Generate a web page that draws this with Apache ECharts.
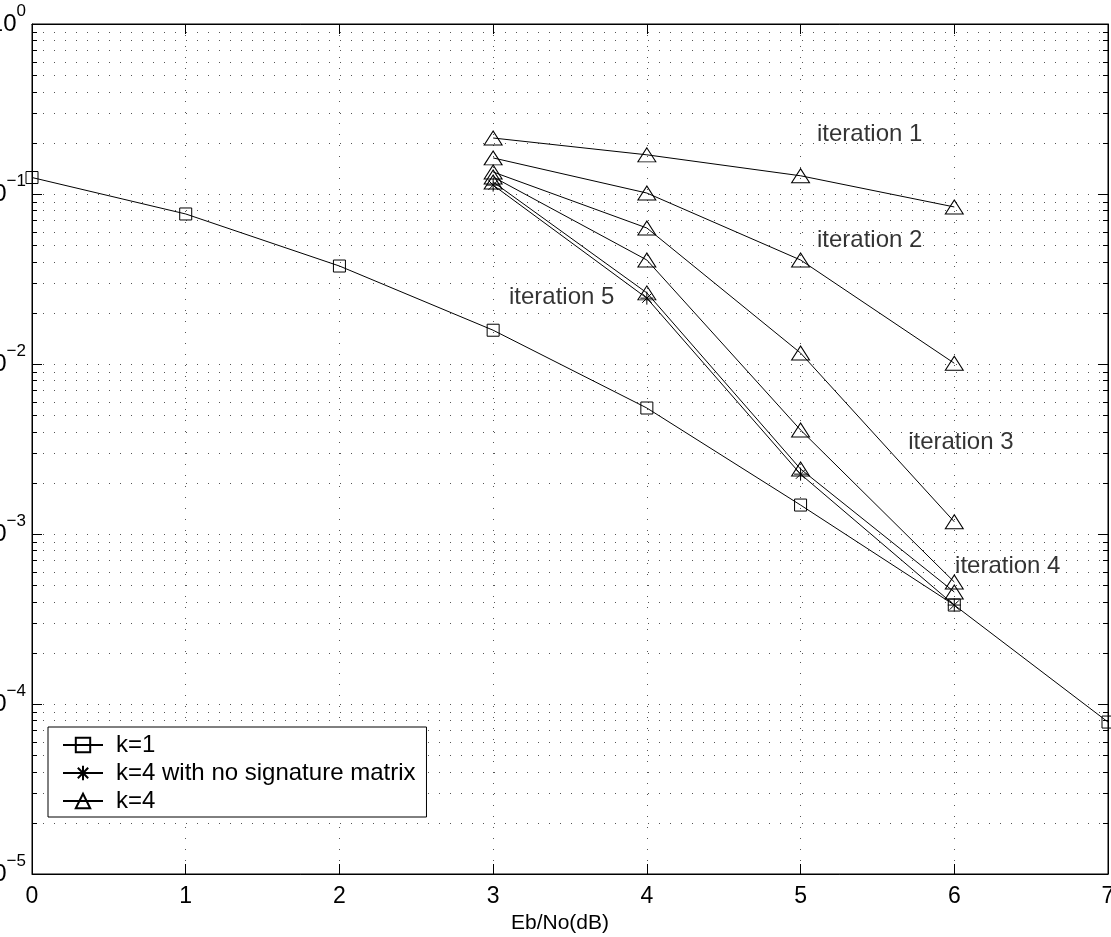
<!DOCTYPE html>
<html>
<head>
<meta charset="utf-8">
<script src="https://cdn.jsdelivr.net/npm/echarts@6/dist/echarts.min.js"></script>
<style>
html,body{margin:0;padding:0;background:#fff;}
#chart{width:1111px;height:937px;}
</style>
</head>
<body>
<div id="chart"></div>
<script>
// ---- data ----
const xTicks = [0, 1, 2, 3, 4, 5, 6, 7];
const ebnoK1 = [0, 1, 2, 3, 4, 5, 6, 7];
const berK1 = [0.125, 0.0763, 0.0377, 0.0158, 0.00551, 0.00148, 0.000382, 0.0000783];
const ebnoK4 = [3, 4, 5, 6];
const berNoSig = [0.1128, 0.0244, 0.00225, 0.000382];
const berIter1 = [0.2135, 0.170, 0.128, 0.0839];
const berIter2 = [0.163, 0.1013, 0.0409, 0.0101];
const berIter3 = [0.1347, 0.0631, 0.0116, 0.00118];
const berIter4 = [0.126, 0.0409, 0.00409, 0.000522];
const berIter5 = [0.1177, 0.0262, 0.00241, 0.000456];
const annotText = ['iteration 1', 'iteration 2', 'iteration 3', 'iteration 4', 'iteration 5'];
const annotX = [5.107, 5.107, 5.70, 6.005, 3.103];
const annotY = [0.2254, 0.0536, 0.00348, 0.000648, 0.0248];
const legendNames = ['k=1', 'k=4 with no signature matrix', 'k=4'];

const FONT = 'Liberation Sans, Arial, Helvetica, sans-serif';
const pair = (xs, ys) => xs.map((x, i) => [x, ys[i]]);

// minor log gridline values (2..9 per decade)
const minorVals = [];
for (let e = -5; e < 0; e++) for (let m = 2; m <= 9; m++) minorVals.push(m * Math.pow(10, e));

const starPath = 'path://M0,-1L0,1M-1,0L1,0M-0.72,-0.72L0.72,0.72M-0.72,0.72L0.72,-0.72';
const GRIDC = '#555';

function lineSeries(name, data, symbol, size) {
  return {
    type: 'line', name: name, data: data,
    symbol: symbol, symbolSize: size, showAllSymbol: true,
    lineStyle: { color: '#000', width: 1 },
    itemStyle: { color: 'rgba(0,0,0,0)', borderColor: '#000', borderWidth: 1 },
    emphasis: { disabled: true }, animation: false, z: 5
  };
}

const chart = echarts.init(document.getElementById('chart'), null, { renderer: 'canvas' });

const series = [
  {
    type: 'custom', name: 'minorGrid', silent: true, animation: false, z: 1, clip: false,
    data: minorVals.map(v => [0, v]),
    encode: { x: 0, y: 1 },
    renderItem: function (params, api) {
      const v = api.value(1);
      const a = api.coord([xTicks[0], v]);
      const b = api.coord([xTicks[xTicks.length - 1], v]);
      const y = Math.round(a[1]) + 0.5;
      return {
        type: 'group', children: [
          { type: 'line', shape: { x1: a[0], y1: y, x2: b[0], y2: y }, style: { stroke: GRIDC, lineWidth: 1, lineDash: [1, 10] } },
          { type: 'line', shape: { x1: a[0], y1: y, x2: a[0] + 5, y2: y }, style: { stroke: '#000', lineWidth: 1 } },
          { type: 'line', shape: { x1: b[0] - 5, y1: y, x2: b[0], y2: y }, style: { stroke: '#000', lineWidth: 1 } }
        ]
      };
    }
  },
  lineSeries(legendNames[0], pair(ebnoK1, berK1), 'rect', 12),
  lineSeries(legendNames[1], pair(ebnoK4, berNoSig), starPath, 13),
  lineSeries(legendNames[2], pair(ebnoK4, berIter1), 'triangle', [18, 14]),
  lineSeries(legendNames[2], pair(ebnoK4, berIter2), 'triangle', [18, 14]),
  lineSeries(legendNames[2], pair(ebnoK4, berIter3), 'triangle', [18, 14]),
  lineSeries(legendNames[2], pair(ebnoK4, berIter4), 'triangle', [18, 14]),
  lineSeries(legendNames[2], pair(ebnoK4, berIter5), 'triangle', [18, 14]),
  {
    type: 'scatter', name: 'annotations', silent: true, animation: false, z: 6,
    symbolSize: 0,
    data: annotText.map((t, i) => [annotX[i], annotY[i], t]),
    label: {
      show: true, position: 'right', distance: 0,
      formatter: p => p.data[2],
      fontFamily: FONT, fontSize: 24, color: '#000'
    }
  }
];

const option = {
  backgroundColor: '#fff',
  animation: false,
  grid: { left: 32, right: 3, top: 24, bottom: 63, containLabel: false, outerBoundsMode: 'none',
          show: true, borderColor: '#000', borderWidth: 1, backgroundColor: 'transparent' },
  legend: {
    data: legendNames,
    orient: 'vertical', left: 48, top: 727,
    itemWidth: 40, itemHeight: 18, itemGap: 4,
    padding: [6, 11, 4, 14],
    borderColor: '#000', borderWidth: 1, backgroundColor: '#fff',
    borderRadius: 0,
    selectedMode: false,
    textStyle: { fontFamily: FONT, fontSize: 24, color: '#000', lineHeight: 22, padding: [0, 0, 0, 8] },
    z: 10
  },
  xAxis: [
    {
      type: 'value', min: xTicks[0], max: xTicks[xTicks.length - 1], interval: 1,
      name: 'Eb/No(dB)', nameLocation: 'middle', nameGap: 31,
      nameTextStyle: { fontFamily: FONT, fontSize: 21, color: '#000', padding: [0, 20, 0, 0] },
      axisLine: { show: true, onZero: false, lineStyle: { color: '#000', width: 1 } },
      axisTick: { show: true, inside: true, length: 10, lineStyle: { color: '#000' } },
      axisLabel: { fontFamily: FONT, fontSize: 23, color: '#000', margin: 11, showMinLabel: true, showMaxLabel: true },
      splitLine: { show: true, lineStyle: { color: GRIDC, width: 1, type: [1, 10] } }
    },
    {
      type: 'value', position: 'top', min: xTicks[0], max: xTicks[xTicks.length - 1], interval: 1,
      axisLine: { show: true, onZero: false, lineStyle: { color: '#000', width: 1 } },
      axisTick: { show: true, inside: true, length: 10, lineStyle: { color: '#000' } },
      axisLabel: { show: false }, splitLine: { show: false }
    }
  ],
  yAxis: [
    {
      type: 'log', logBase: 10, min: 1e-5, max: 1, splitNumber: 5,
      axisLine: { show: true, onZero: false, lineStyle: { color: '#000', width: 1 } },
      axisTick: { show: true, inside: true, length: 10, lineStyle: { color: '#000' } },
      axisLabel: {
        margin: 6, showMinLabel: true, showMaxLabel: true,
        formatter: function (v) {
          const e = Math.round(Math.log10(v));
          return '{b|10}{s|' + (e < 0 ? '\u2212' + (-e) : String(e)) + '}';
        },
        rich: {
          b: { fontFamily: FONT, fontSize: 24, color: '#000', lineHeight: 42, verticalAlign: 'middle' },
          s: { fontFamily: FONT, fontSize: 17, color: '#000', lineHeight: 16, verticalAlign: 'top' }
        }
      },
      splitLine: { show: true, lineStyle: { color: GRIDC, width: 1, type: [1, 10] } }
    },
    {
      type: 'log', logBase: 10, min: 1e-5, max: 1, splitNumber: 5, position: 'right',
      axisLine: { show: true, onZero: false, lineStyle: { color: '#000', width: 1 } },
      axisTick: { show: true, inside: true, length: 10, lineStyle: { color: '#000' } },
      axisLabel: { show: false }, splitLine: { show: false }
    }
  ],
  series: series
};

chart.setOption(option);
</script>
</body>
</html>
